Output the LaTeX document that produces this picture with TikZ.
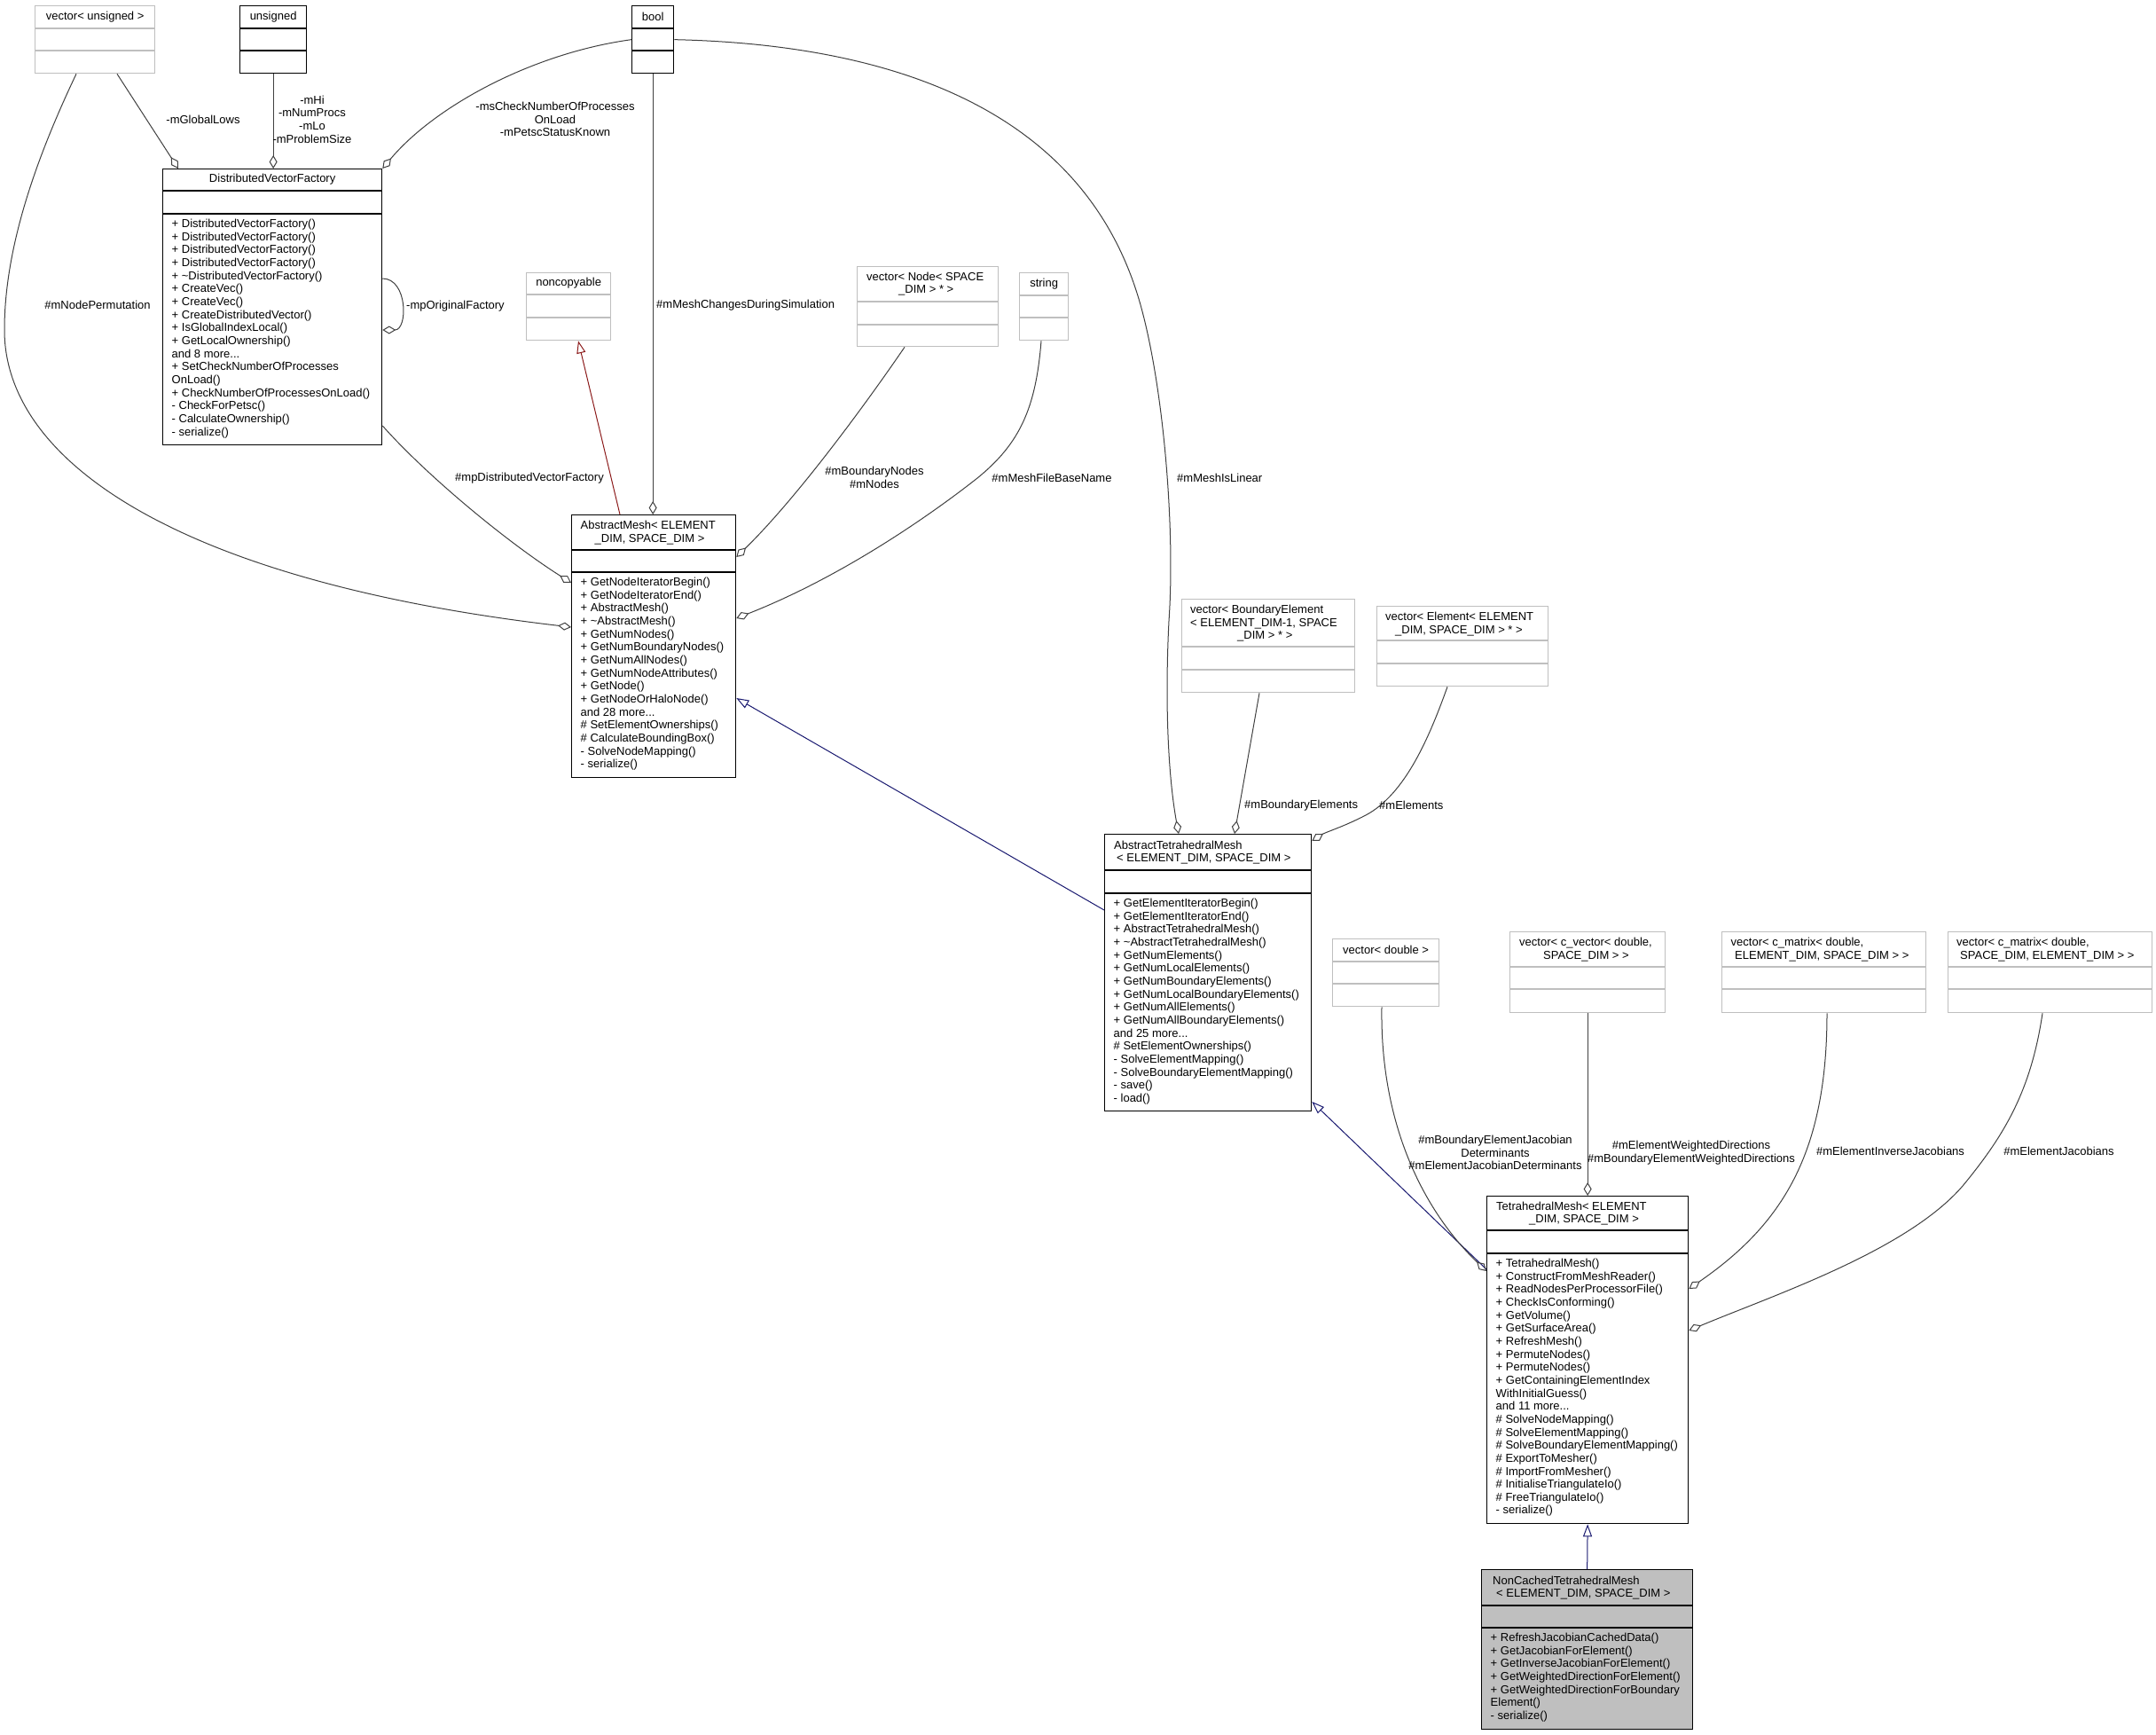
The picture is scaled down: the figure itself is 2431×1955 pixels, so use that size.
\documentclass[tikz,border=0pt]{standalone}
\usepackage{fontspec}
\setmainfont{Liberation Sans}
\usetikzlibrary{arrows.meta}
\definecolor{edgegray}{HTML}{404040}
\definecolor{extgray}{HTML}{BFBFBF}
\definecolor{curgray}{HTML}{BFBFBF}
\definecolor{inhblue}{HTML}{191970}
\definecolor{inhred}{HTML}{8B1A1A}
\begin{document}
\begin{tikzpicture}[x=1pt, y=-1pt,
    every node/.style={font=\fontsize{13}{14.65}\selectfont, inner sep=0pt},
    cls/.style={draw=black, line width=1.3pt, fill=white, anchor=north west},
    ext/.style={draw=extgray, line width=1.3pt, fill=white, anchor=north west},
    cur/.style={cls, fill=curgray},
    cdiv/.style={black, line width=1.3pt},
    ediv/.style={extgray, line width=1.3pt},
    ttl/.style={align=center},
    mth/.style={align=left, anchor=north west},
    lbl/.style={align=center},
    agg/.style={edgegray, line width=1pt, -{Diamond[open, length=15pt, width=9pt]}},
    inh/.style={inhblue, line width=1pt, -{Triangle[open, length=14pt, width=10pt]}},
    inhp/.style={inh, inhred}]
\useasboundingbox (0,0) rectangle (2431,1955);

% top row of member types
\node[ext, minimum width=135pt, minimum height=76pt] (vuns) at (39,6) {};
\draw[ediv] ([yshift=-26pt]vuns.north west) -- ([yshift=-26pt]vuns.north east) ([yshift=-51pt]vuns.north west) -- ([yshift=-51pt]vuns.north east);
\node[ttl] (vunst) at ([yshift=-13pt]vuns.north) {vector< unsigned >};
\node[cls, minimum width=75pt, minimum height=76pt] (uns) at (270,6) {};
\draw[cdiv] ([yshift=-26pt]uns.north west) -- ([yshift=-26pt]uns.north east) ([yshift=-51pt]uns.north west) -- ([yshift=-51pt]uns.north east);
\node[ttl] (unst) at ([yshift=-13pt]uns.north) {unsigned};
\node[cls, minimum width=47pt, minimum height=76pt] (bool) at (712,6) {};
\draw[cdiv] ([yshift=-26pt]bool.north west) -- ([yshift=-26pt]bool.north east) ([yshift=-51pt]bool.north west) -- ([yshift=-51pt]bool.north east);
\node[ttl] (boolt) at ([yshift=-13pt]bool.north) {bool};

% DistributedVectorFactory
\node[cls, minimum width=247pt, minimum height=311pt] (dvf) at (183,190) {};
\draw[cdiv] ([yshift=-25pt]dvf.north west) -- ([yshift=-25pt]dvf.north east) ([yshift=-51pt]dvf.north west) -- ([yshift=-51pt]dvf.north east);
\node[ttl] (dvft) at ([yshift=-12.5pt]dvf.north) {DistributedVectorFactory};
\node[mth] (dvfm) at ([xshift=10.5pt, yshift=-57pt]dvf.north west) {+ DistributedVectorFactory()\\+ DistributedVectorFactory()\\+ DistributedVectorFactory()\\+ DistributedVectorFactory()\\+ \textasciitilde DistributedVectorFactory()\\+ CreateVec()\\+ CreateVec()\\+ CreateDistributedVector()\\+ IsGlobalIndexLocal()\\+ GetLocalOwnership()\\and 8 more...\\+ SetCheckNumberOfProcesses\\OnLoad()\\+ CheckNumberOfProcessesOnLoad()\\- CheckForPetsc()\\- CalculateOwnership()\\- serialize()};

% middle row
\node[ext, minimum width=95pt, minimum height=76pt] (ncp) at (593,307) {};
\draw[ediv] ([yshift=-25pt]ncp.north west) -- ([yshift=-25pt]ncp.north east) ([yshift=-51pt]ncp.north west) -- ([yshift=-51pt]ncp.north east);
\node[ttl] (ncpt) at ([yshift=-12.5pt]ncp.north) {noncopyable};
\node[ext, minimum width=159pt, minimum height=90pt] (vnode) at (966,300) {};
\draw[ediv] ([yshift=-40pt]vnode.north west) -- ([yshift=-40pt]vnode.north east) ([yshift=-66pt]vnode.north west) -- ([yshift=-66pt]vnode.north east);
\node[mth] (vnodet) at ([xshift=11pt, yshift=-6.5pt]vnode.north west) {vector< Node< SPACE\\\hspace*{36pt}\_DIM > * >};
\node[ext, minimum width=55pt, minimum height=76pt] (str) at (1149,307) {};
\draw[ediv] ([yshift=-26pt]str.north west) -- ([yshift=-26pt]str.north east) ([yshift=-51pt]str.north west) -- ([yshift=-51pt]str.north east);
\node[ttl] (strt) at ([yshift=-13pt]str.north) {string};

% AbstractMesh
\node[cls, minimum width=185pt, minimum height=296pt] (am) at (644,580) {};
\draw[cdiv] ([yshift=-40pt]am.north west) -- ([yshift=-40pt]am.north east) ([yshift=-65pt]am.north west) -- ([yshift=-65pt]am.north east);
\node[mth] (amt) at ([xshift=10.5pt, yshift=-7pt]am.north west) {AbstractMesh< ELEMENT\\\hspace*{16pt}\_DIM, SPACE\_DIM >};
\node[mth] (amm) at ([xshift=10.5pt, yshift=-71pt]am.north west) {+ GetNodeIteratorBegin()\\+ GetNodeIteratorEnd()\\+ AbstractMesh()\\+ \textasciitilde AbstractMesh()\\+ GetNumNodes()\\+ GetNumBoundaryNodes()\\+ GetNumAllNodes()\\+ GetNumNodeAttributes()\\+ GetNode()\\+ GetNodeOrHaloNode()\\and 28 more...\\\# SetElementOwnerships()\\\# CalculateBoundingBox()\\- SolveNodeMapping()\\- serialize()};

% element containers
\node[ext, minimum width=195pt, minimum height=105pt] (vbel) at (1332,675) {};
\draw[ediv] ([yshift=-54pt]vbel.north west) -- ([yshift=-54pt]vbel.north east) ([yshift=-80pt]vbel.north west) -- ([yshift=-80pt]vbel.north east);
\node[mth] (vbelt) at ([xshift=10pt, yshift=-7pt]vbel.north west) {vector< BoundaryElement\\< ELEMENT\_DIM-1, SPACE\\\hspace*{53pt}\_DIM > * >};
\node[ext, minimum width=193pt, minimum height=90pt] (vel) at (1552,683) {};
\draw[ediv] ([yshift=-39pt]vel.north west) -- ([yshift=-39pt]vel.north east) ([yshift=-65pt]vel.north west) -- ([yshift=-65pt]vel.north east);
\node[mth] (velt) at ([xshift=10pt, yshift=-7pt]vel.north west) {vector< Element< ELEMENT\\\hspace*{11pt}\_DIM, SPACE\_DIM > * >};

% AbstractTetrahedralMesh
\node[cls, minimum width=233pt, minimum height=312pt] (atm) at (1245,940) {};
\draw[cdiv] ([yshift=-41pt]atm.north west) -- ([yshift=-41pt]atm.north east) ([yshift=-67pt]atm.north west) -- ([yshift=-67pt]atm.north east);
\node[mth] (atmt) at ([xshift=11pt, yshift=-7.5pt]atm.north west) {AbstractTetrahedralMesh\\\hspace*{3pt}< ELEMENT\_DIM, SPACE\_DIM >};
\node[mth] (atmm) at ([xshift=10.5pt, yshift=-73pt]atm.north west) {+ GetElementIteratorBegin()\\+ GetElementIteratorEnd()\\+ AbstractTetrahedralMesh()\\+ \textasciitilde AbstractTetrahedralMesh()\\+ GetNumElements()\\+ GetNumLocalElements()\\+ GetNumBoundaryElements()\\+ GetNumLocalBoundaryElements()\\+ GetNumAllElements()\\+ GetNumAllBoundaryElements()\\and 25 more...\\\# SetElementOwnerships()\\- SolveElementMapping()\\- SolveBoundaryElementMapping()\\- save()\\- load()};

% jacobian containers
\node[ext, minimum width=120pt, minimum height=76pt] (vdbl) at (1502,1058) {};
\draw[ediv] ([yshift=-26pt]vdbl.north west) -- ([yshift=-26pt]vdbl.north east) ([yshift=-51pt]vdbl.north west) -- ([yshift=-51pt]vdbl.north east);
\node[ttl] (vdblt) at ([yshift=-13pt]vdbl.north) {vector< double >};
\node[ext, minimum width=175pt, minimum height=91pt] (vcvec) at (1702,1050) {};
\draw[ediv] ([yshift=-40pt]vcvec.north west) -- ([yshift=-40pt]vcvec.north east) ([yshift=-65pt]vcvec.north west) -- ([yshift=-65pt]vcvec.north east);
\node[mth] (vcvect) at ([xshift=11pt, yshift=-7pt]vcvec.north west) {vector< c\_vector< double,\\\hspace*{27pt}SPACE\_DIM > >};
\node[ext, minimum width=230pt, minimum height=91pt] (vcm1) at (1941,1050) {};
\draw[ediv] ([yshift=-40pt]vcm1.north west) -- ([yshift=-40pt]vcm1.north east) ([yshift=-65pt]vcm1.north west) -- ([yshift=-65pt]vcm1.north east);
\node[mth] (vcm1t) at ([xshift=10.5pt, yshift=-7pt]vcm1.north west) {vector< c\_matrix< double,\\\hspace*{4.5pt}ELEMENT\_DIM, SPACE\_DIM > >};
\node[ext, minimum width=230pt, minimum height=91pt] (vcm2) at (2196,1050) {};
\draw[ediv] ([yshift=-40pt]vcm2.north west) -- ([yshift=-40pt]vcm2.north east) ([yshift=-65pt]vcm2.north west) -- ([yshift=-65pt]vcm2.north east);
\node[mth] (vcm2t) at ([xshift=10pt, yshift=-7pt]vcm2.north west) {vector< c\_matrix< double,\\\hspace*{4pt}SPACE\_DIM, ELEMENT\_DIM > >};

% TetrahedralMesh
\node[cls, minimum width=227pt, minimum height=369pt] (tm) at (1676,1348) {};
\draw[cdiv] ([yshift=-39pt]tm.north west) -- ([yshift=-39pt]tm.north east) ([yshift=-65pt]tm.north west) -- ([yshift=-65pt]tm.north east);
\node[mth] (tmt) at ([xshift=11pt, yshift=-6.5pt]tm.north west) {TetrahedralMesh< ELEMENT\\\hspace*{37pt}\_DIM, SPACE\_DIM >};
\node[mth] (tmm) at ([xshift=10.5pt, yshift=-71pt]tm.north west) {+ TetrahedralMesh()\\+ ConstructFromMeshReader()\\+ ReadNodesPerProcessorFile()\\+ CheckIsConforming()\\+ GetVolume()\\+ GetSurfaceArea()\\+ RefreshMesh()\\+ PermuteNodes()\\+ PermuteNodes()\\+ GetContainingElementIndex\\WithInitialGuess()\\and 11 more...\\\# SolveNodeMapping()\\\# SolveElementMapping()\\\# SolveBoundaryElementMapping()\\\# ExportToMesher()\\\# ImportFromMesher()\\\# InitialiseTriangulateIo()\\\# FreeTriangulateIo()\\- serialize()};

% NonCachedTetrahedralMesh
\node[cur, minimum width=238pt, minimum height=180pt] (ncm) at (1670,1769) {};
\draw[cdiv] ([yshift=-41pt]ncm.north west) -- ([yshift=-41pt]ncm.north east) ([yshift=-66pt]ncm.north west) -- ([yshift=-66pt]ncm.north east);
\node[mth] (ncmt) at ([xshift=13pt, yshift=-7.5pt]ncm.north west) {NonCachedTetrahedralMesh\\\hspace*{4pt}< ELEMENT\_DIM, SPACE\_DIM >};
\node[mth] (ncmm) at ([xshift=10.5pt, yshift=-72pt]ncm.north west) {+ RefreshJacobianCachedData()\\+ GetJacobianForElement()\\+ GetInverseJacobianForElement()\\+ GetWeightedDirectionForElement()\\+ GetWeightedDirectionForBoundary\\Element()\\- serialize()};

% connectors into DistributedVectorFactory
\draw[agg] ([xshift=93pt]vuns.south west) -- ([xshift=18pt]dvf.north west);
\draw[agg] (uns.south) -- (uns.south |- dvf.north);
\draw[agg] (bool.west) .. controls (600,60) and (490,120) .. (dvf.north east);
\draw[agg] ([yshift=-124pt]dvf.north east) .. controls (460,314) and (460,372) .. ([yshift=-182pt]dvf.north east);

% connectors into AbstractMesh
\draw[agg] ([xshift=47pt]vuns.south west) .. controls (40,180) and (5,280) .. (5,372) .. controls (5,520) and (200,655) .. ([yshift=-127pt]am.north west);
\draw[agg] ([yshift=-290pt]dvf.north east) .. controls (480,535) and (570,610) .. ([yshift=-77pt]am.north west);
\draw[agg] (bool.south) -- (bool.south |- am.north);
\draw[agg] ([xshift=54pt]vnode.south west) .. controls (980,450) and (900,560) .. ([yshift=-48pt]am.north east);
\draw[agg] ([xshift=25pt]str.south west) .. controls (1168,460) and (1150,500) .. (1102,539) .. controls (1050,580) and (950,650) .. ([yshift=-117pt]am.north east);
\draw[inhp] ([xshift=55pt]am.north west) -- ([xshift=59pt]ncp.south west);

% connectors into AbstractTetrahedralMesh
\draw[agg] (bool.east) .. controls (1000,50) and (1230,120) .. (1289,355) .. controls (1313,449) and (1325,600) .. (1318,700) .. controls (1313,800) and (1318,880) .. ([xshift=84pt]atm.north west);
\draw[agg] ([xshift=88pt]vbel.south west) -- ([xshift=147pt]atm.north west);
\draw[agg] ([xshift=80pt]vel.south west) .. controls (1612,830) and (1585,895) .. (1540,919) .. controls (1515,932) and (1495,938) .. ([yshift=-8pt]atm.north east);
\draw[inh] ([yshift=-86pt]atm.north west) -- ([yshift=-207pt]am.north east);

% connectors into TetrahedralMesh
\draw[inh] ([yshift=-83pt]tm.north west) -- ([yshift=-302pt]atm.north east);
\draw[agg] ([xshift=56pt]vdbl.south west) .. controls (1556,1260) and (1600,1360) .. ([yshift=-85pt]tm.north west);
\draw[agg] (vcvec.south) -- (tm.north);
\draw[agg] ([xshift=119pt]vcm1.south west) .. controls (2060,1300) and (2010,1380) .. ([yshift=-105pt]tm.north east);
\draw[agg] ([xshift=107pt]vcm2.south west) .. controls (2290,1230) and (2260,1280) .. (2213,1337) .. controls (2150,1410) and (2000,1460) .. ([yshift=-152pt]tm.north east);
\draw[inh] (ncm.north) -- (tm.south);

% edge labels
\node[lbl] (lglob) at (229,135) {-mGlobalLows};
\node[lbl] (lproc) at (352,134.5) {-mHi\\-mNumProcs\\-mLo\\-mProblemSize};
\node[lbl] (lpetsc) at (626,134.5) {-msCheckNumberOfProcesses\\OnLoad\\-mPetscStatusKnown};
\node[lbl] (lperm) at (110,344) {\#mNodePermutation};
\node[lbl, anchor=west] (lorig) at (458,345) {-mpOriginalFactory};
\node[lbl, anchor=west] (lchg) at (740,344) {\#mMeshChangesDuringSimulation};
\node[lbl] (ldvf) at (597,539) {\#mpDistributedVectorFactory};
\node[lbl] (lnodes) at (986,538.5) {\#mBoundaryNodes\\\#mNodes};
\node[lbl] (lfile) at (1186,539) {\#mMeshFileBaseName};
\node[lbl, anchor=west] (llin) at (1327,539) {\#mMeshIsLinear};
\node[lbl, anchor=west] (lbel) at (1403,908) {\#mBoundaryElements};
\node[lbl, anchor=west] (lel) at (1555,908) {\#mElements};
\node[lbl] (ldet) at (1686,1299.5) {\#mBoundaryElementJacobian\\Determinants\\\#mElementJacobianDeterminants};
\node[lbl] (ldir) at (1907,1299.5) {\#mElementWeightedDirections\\\#mBoundaryElementWeightedDirections};
\node[lbl] (linv) at (2131.5,1298) {\#mElementInverseJacobians};
\node[lbl] (ljac) at (2321.5,1298) {\#mElementJacobians};
\end{tikzpicture}
\end{document}
